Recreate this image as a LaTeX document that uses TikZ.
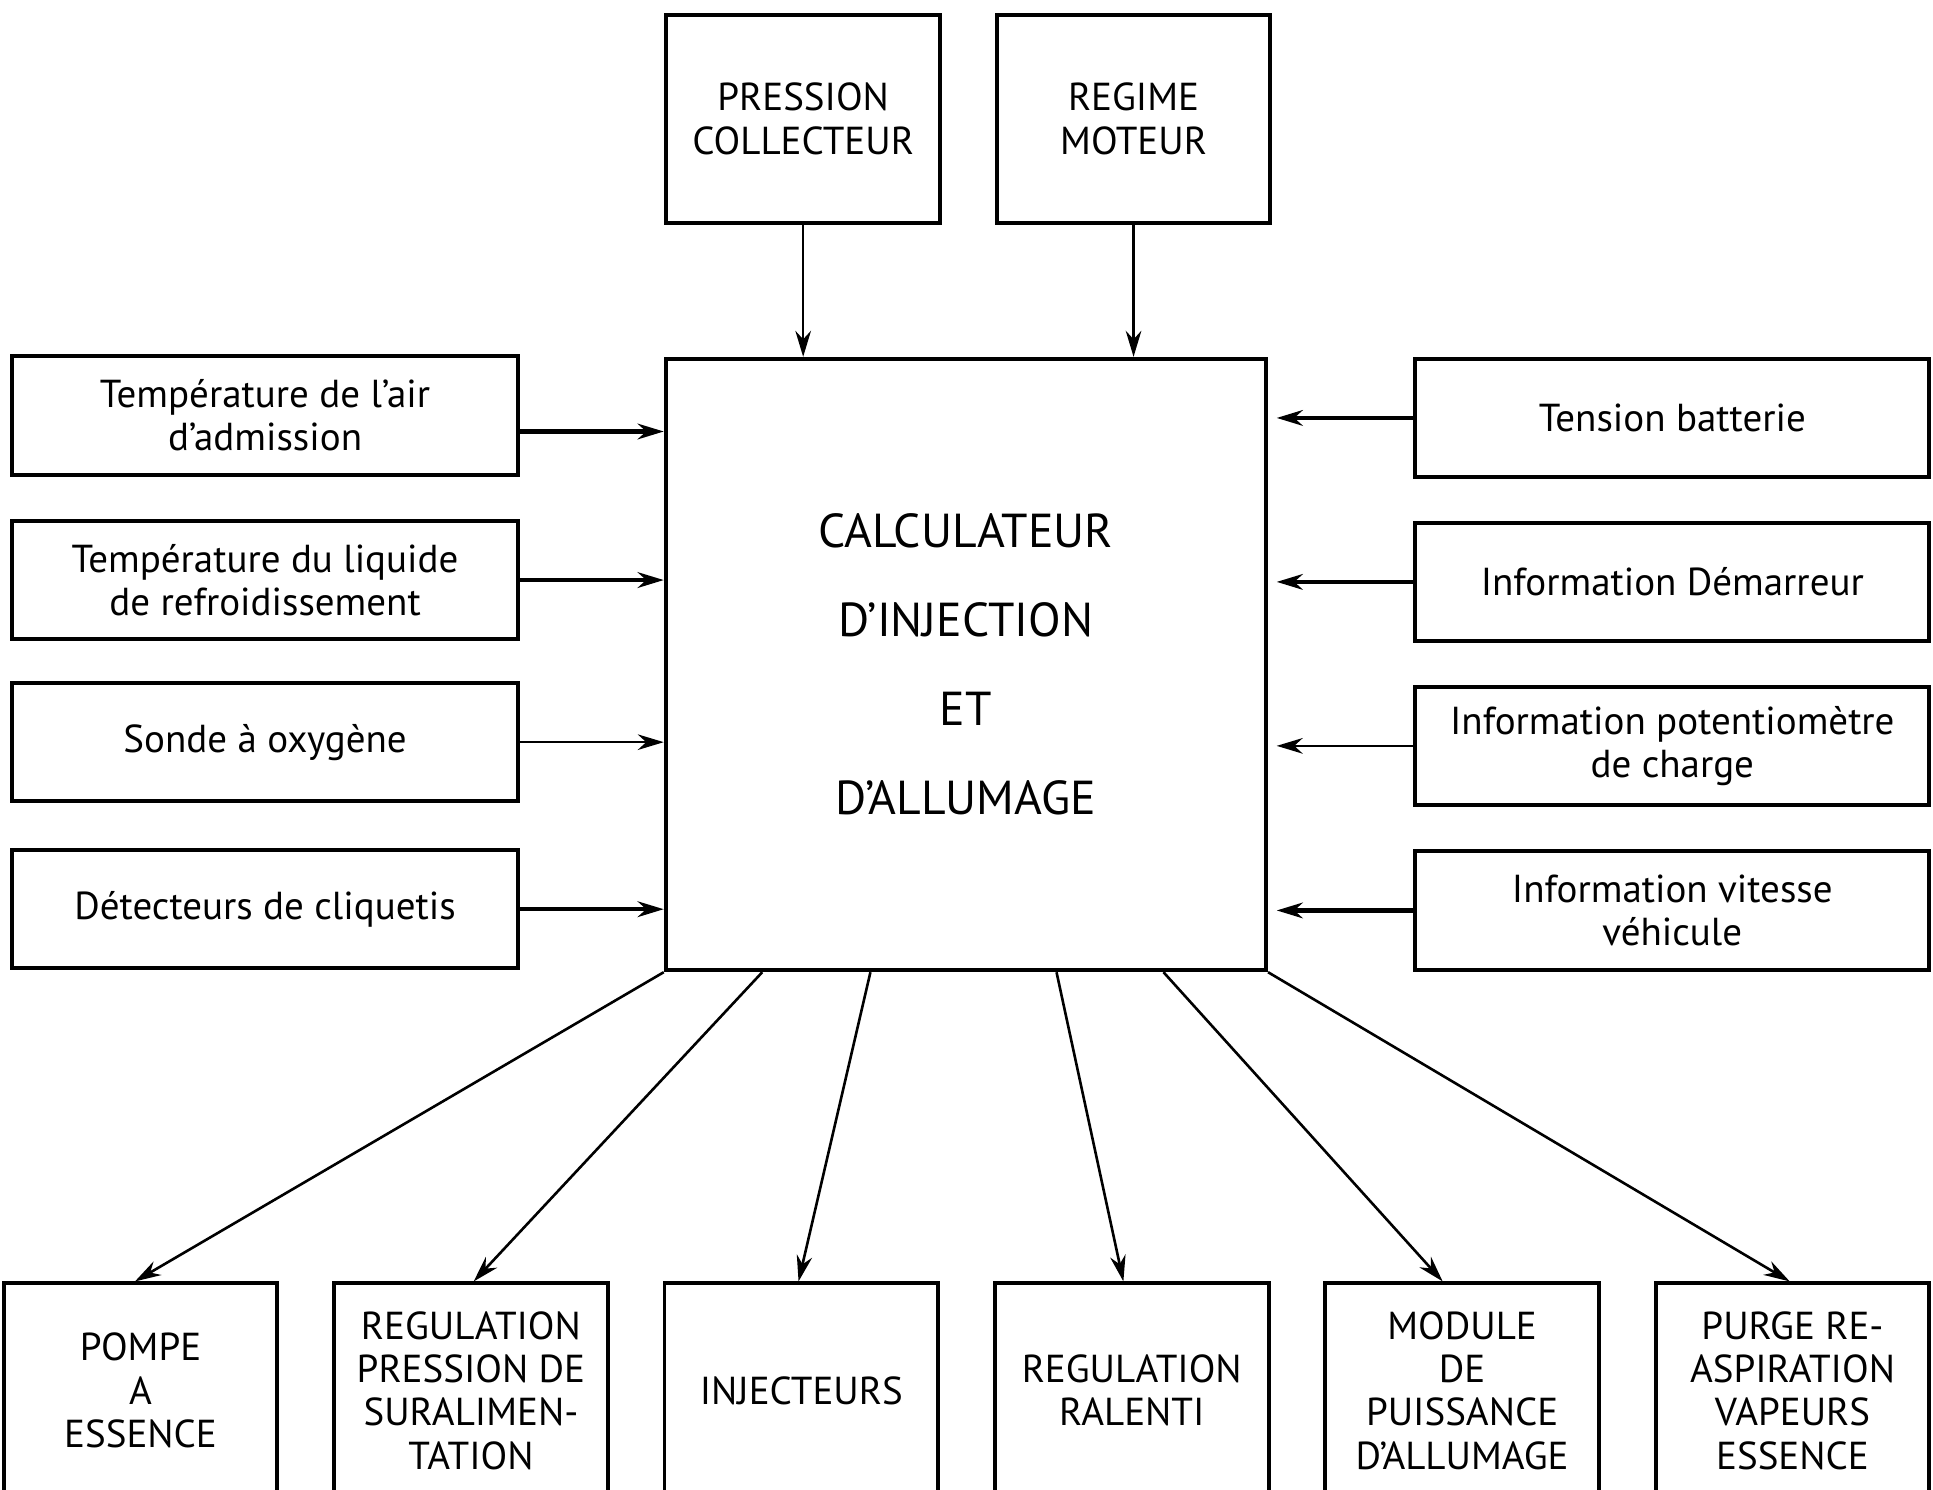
\documentclass[tikz,border=0pt]{standalone}
\usepackage{fontspec}
\setmainfont{PT Sans}
\usetikzlibrary{arrows.meta,calc}

\begin{document}
\begin{tikzpicture}[
  box/.style={draw, line width=0.9pt, minimum width=4.1cm, minimum height=0.96cm, align=center, inner sep=0pt, font=\fontsize{9}{10}\selectfont},
  inbox/.style={box, minimum width=4.17cm},
  topbox/.style={box, minimum width=2.22cm, minimum height=1.69cm},
  outbox/.style={box, minimum width=2.22cm, minimum height=1.74cm},
  arrow/.style={-{Stealth[length=6pt,width=3.6pt]}, line width=0.6pt},
  thickarrow/.style={arrow, line width=1pt},
]
\clip (0,0) rectangle (15.68,-12.08);

% calculateur
\node[box, minimum width=4.87cm, minimum height=4.96cm, font=\fontsize{11}{20.5}\selectfont] (calc) at (7.835,-5.39)
  {CALCULATEUR\\D'INJECTION\\ET\\D'ALLUMAGE};

% entrees en haut
\node[topbox] (press) at (6.515,-0.965) {PRESSION\\COLLECTEUR};
\node[topbox] (regime) at (9.195,-0.965) {REGIME\\MOTEUR};

% entrees a gauche
\node[box] (air) at (2.15,-3.37) {Température de l'air\\d'admission};
\node[box] (liq) at (2.15,-4.705) {Température du liquide\\de refroidissement};
\node[box] (sonde) at (2.15,-6.02) {Sonde à oxygène};
\node[box] (clic) at (2.15,-7.375) {Détecteurs de cliquetis};

% entrees a droite
\node[inbox] (bat) at (13.565,-3.39) {Tension batterie};
\node[inbox] (dem) at (13.565,-4.72) {Information Démarreur};
\node[inbox] (pot) at (13.565,-6.05) {Information potentiomètre\\de charge};
\node[inbox] (vit) at (13.565,-7.385) {Information vitesse\\véhicule};

% sorties
\node[outbox] (pompe) at (1.14,-11.28) {POMPE\\A\\ESSENCE};
\node[outbox] (sural) at (3.82,-11.28) {REGULATION\\PRESSION DE\\SURALIMEN-\\TATION};
\node[outbox] (inj) at (6.50,-11.28) {INJECTEURS};
\node[outbox] (ral) at (9.18,-11.28) {REGULATION\\RALENTI};
\node[outbox] (mod) at (11.86,-11.28) {MODULE\\DE\\PUISSANCE\\D'ALLUMAGE};
\node[outbox] (purge) at (14.54,-11.28) {PURGE RE-\\ASPIRATION\\VAPEURS\\ESSENCE};

% fleches du haut
\draw[arrow] (press) -- (press |- calc.north);
\draw[arrow] (regime) -- (regime |- calc.north);

% fleches de gauche
\draw[thickarrow] ([yshift=-0.13cm]air.east) -- ([yshift=-0.13cm]air.east -| calc.west);
\draw[thickarrow] (liq) -- (liq -| calc.west);
\draw[arrow] (sonde) -- (sonde -| calc.west);
\draw[thickarrow] (clic) -- (clic -| calc.west);

% fleches de droite
\draw[thickarrow, shorten >=2pt] (bat) -- (bat -| calc.east);
\draw[thickarrow, shorten >=2pt] (dem) -- (dem -| calc.east);
\draw[arrow, shorten >=2pt] (pot) -- (pot -| calc.east);
\draw[thickarrow, shorten >=2pt] (vit) -- (vit -| calc.east);

% sorties
\draw[arrow] (calc.south west) -- ($(pompe.north west)!0.48!(pompe.north east)$);
\draw[arrow] ($(calc.south west)!0.163!(calc.south east)$) -- ($(sural.north west)!0.51!(sural.north east)$);
\draw[arrow] ($(calc.south west)!0.342!(calc.south east)$) -- ($(inj.north west)!0.49!(inj.north east)$);
\draw[arrow] ($(calc.south west)!0.65!(calc.south east)$) -- ($(ral.north west)!0.47!(ral.north east)$);
\draw[arrow] ($(calc.south west)!0.827!(calc.south east)$) -- ($(mod.north west)!0.43!(mod.north east)$);
\draw[arrow] (calc.south east) -- ($(purge.north west)!0.49!(purge.north east)$);

\end{tikzpicture}
\end{document}
